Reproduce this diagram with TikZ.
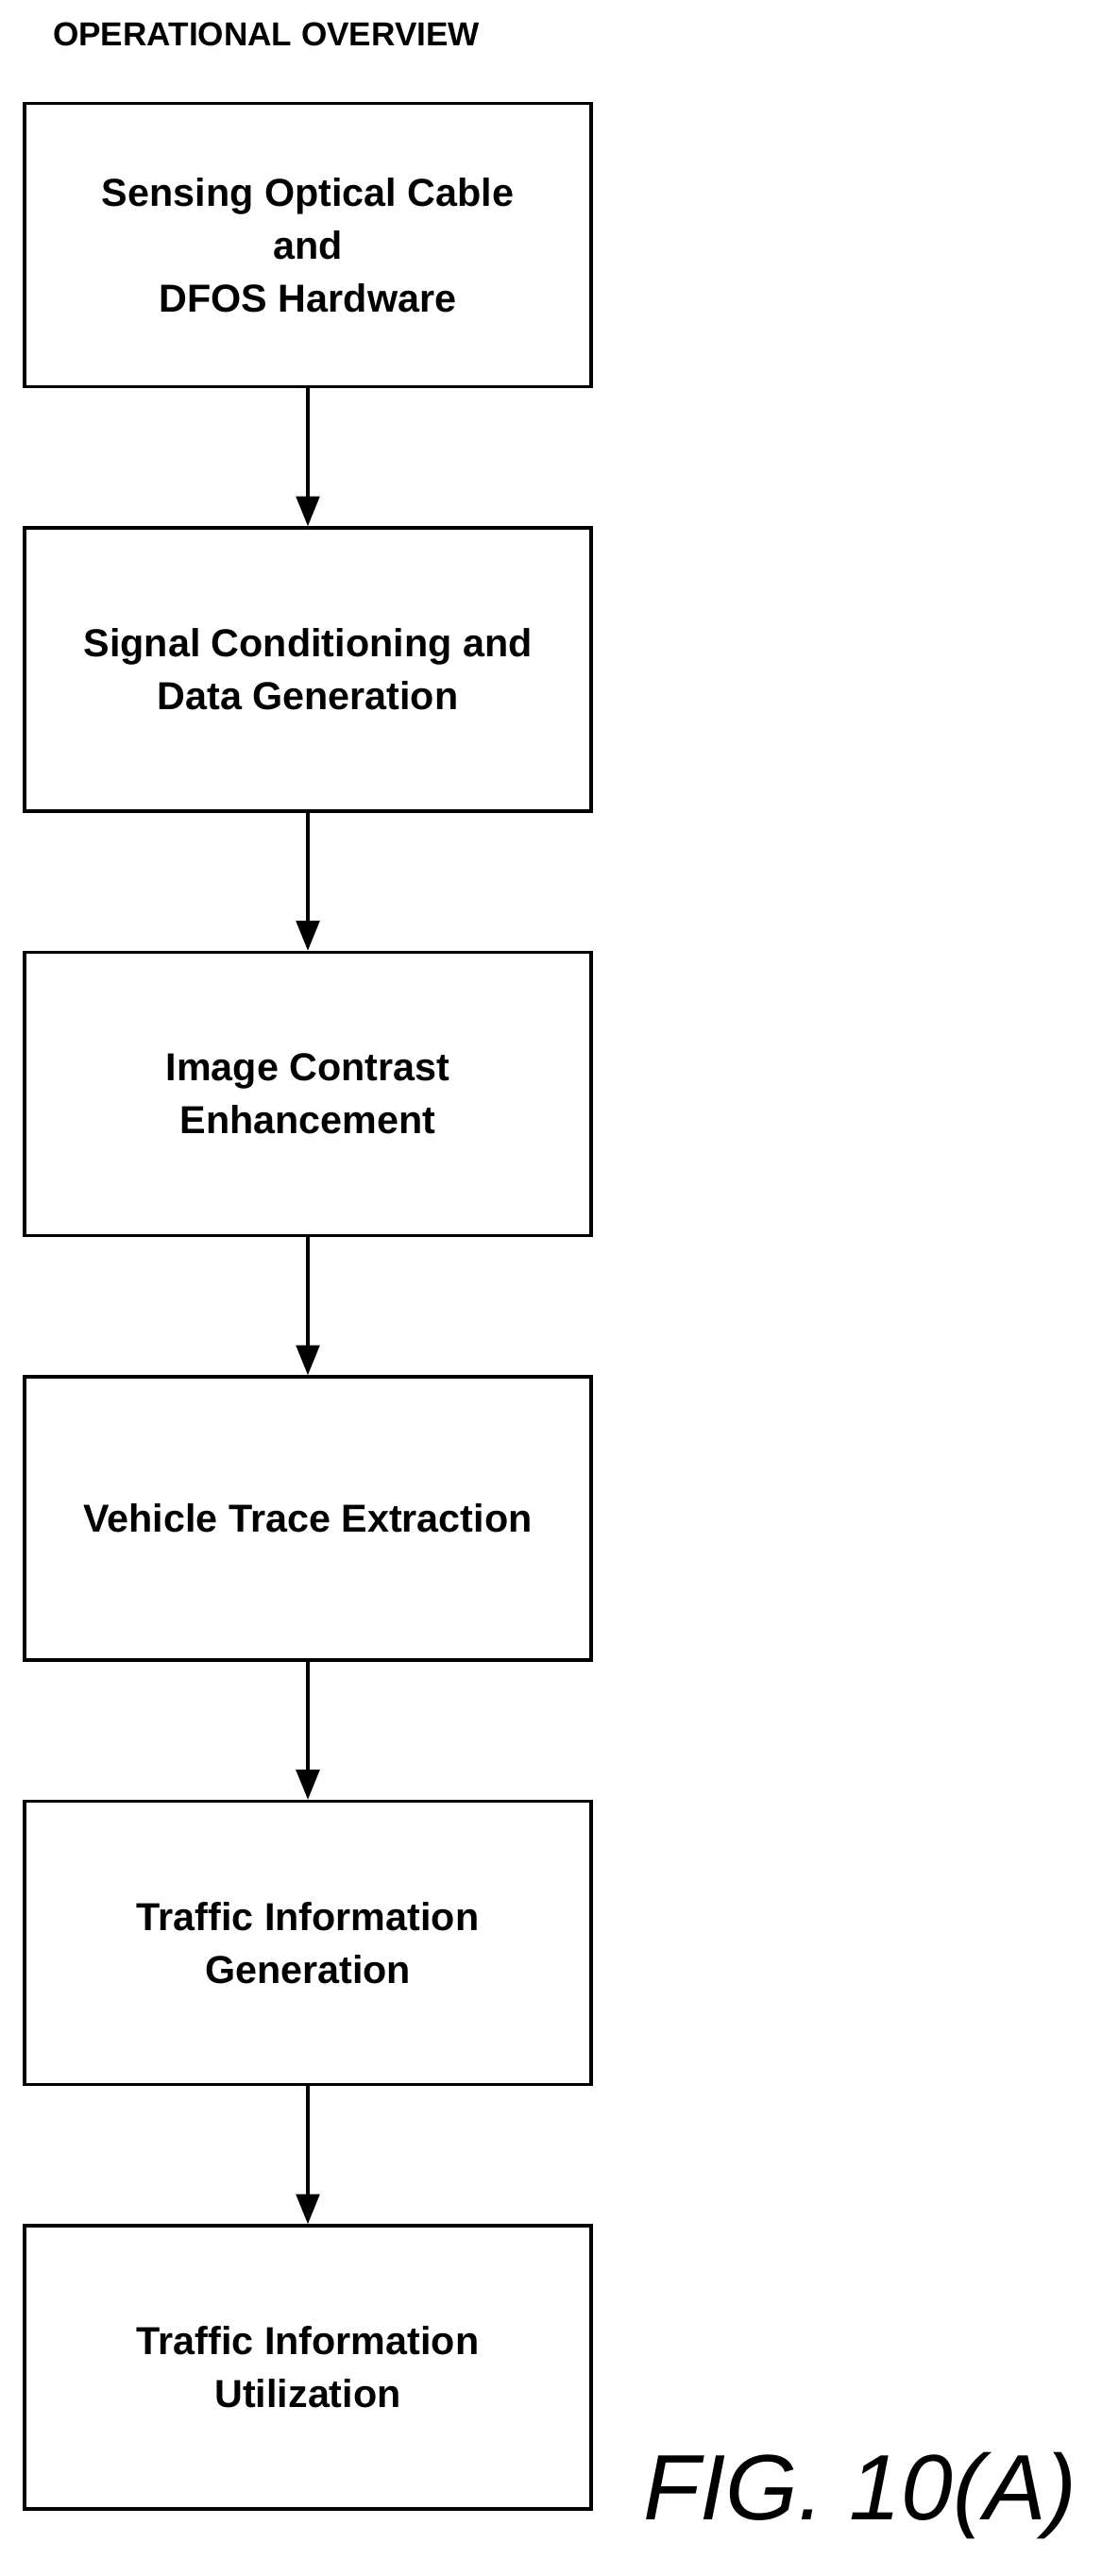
\documentclass[tikz,border=0pt]{standalone}
\usepackage{fontspec}
\setmainfont{Liberation Sans}
\usetikzlibrary{positioning,arrows.meta}
\tikzset{
  stage/.style={draw, line width=2pt, minimum width=12cm, minimum height=6cm,
    align=center, font=\fontsize{23.5}{32}\selectfont\bfseries},
  flow/.style={-{Triangle[length=18pt,width=14pt]}, line width=2pt}
}
\begin{document}
\begin{tikzpicture}
    \useasboundingbox (0,0) rectangle (23.32,-54.56);
    % title
    \node[anchor=west, font=\fontsize{20}{22}\selectfont\bfseries] (title) at (1.0,-0.72) {OPERATIONAL OVERVIEW};

    % stages
    \node[stage] (sense) at (6.52,-5.19) {Sensing Optical Cable\\and\\DFOS Hardware};
    \node[stage, below=2.92cm of sense] (cond) {Signal Conditioning and\\Data Generation};
    \node[stage, below=2.92cm of cond] (contrast) {Image Contrast\\Enhancement};
    \node[stage, below=2.92cm of contrast] (trace) {Vehicle Trace Extraction};
    \node[stage, below=2.92cm of trace] (gen) {Traffic Information\\Generation};
    \node[stage, below=2.92cm of gen] (use) {Traffic Information\\Utilization};

    % arrows
    \draw[flow] (sense) -- (cond);
    \draw[flow] (cond) -- (contrast);
    \draw[flow] (contrast) -- (trace);
    \draw[flow] (trace) -- (gen);
    \draw[flow] (gen) -- (use);

    \node[anchor=south west, font=\fontsize{56}{60}\selectfont\itshape] (fig) at (13.5,-53.9) {FIG. 10(A)};
\end{tikzpicture}
\end{document}
